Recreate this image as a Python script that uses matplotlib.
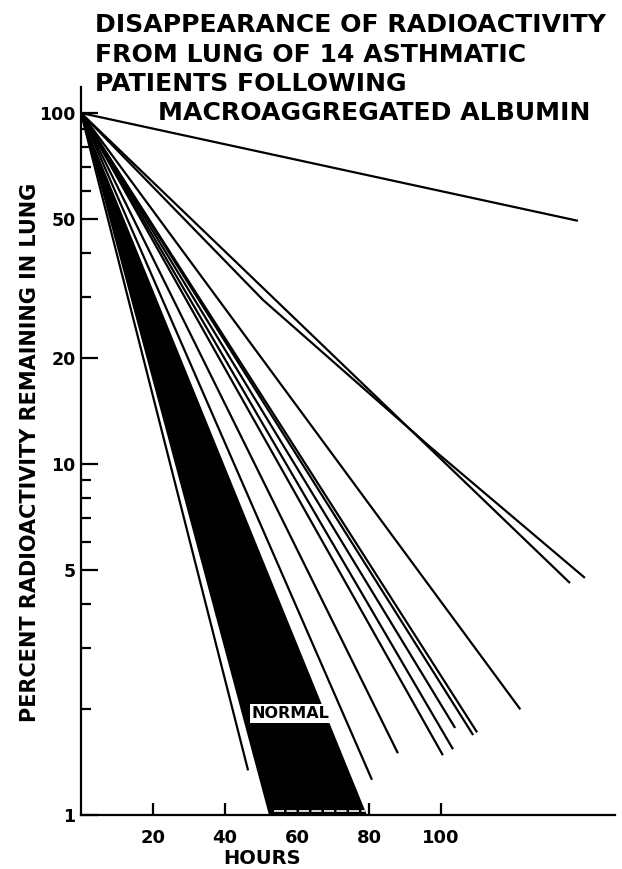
import matplotlib
matplotlib.use("Agg")
import matplotlib.pyplot as plt
from matplotlib import font_manager
import numpy as np

# ---------------- data ----------------
# straight-line patients: (end hour, end percent), all start at (0, 100)
patient_end_hours = [138.0, 135.8, 122.0, 110.0, 108.9, 103.9, 103.3, 100.5, 88.0, 80.8, 46.4]
patient_end_pct   = [49.3,  4.58,  2.0,   1.72,  1.69,  1.77,  1.54,  1.48,  1.50, 1.26, 1.34]
# one curved patient (polyline)
curved_hours = [0.0, 50.6, 96.9, 139.7]
curved_pct   = [100.0, 29.3, 11.2, 4.76]
# normal band (filled fan)
normal_hours = [0.0, 52.2, 79.4]
normal_pct   = [100.0, 1.0, 1.0]
start_pct = 100.0

x_ticks = [20, 40, 60, 80, 100]
y_major = [1, 5, 10, 20, 50, 100]
y_minor = [2, 3, 4, 6, 7, 8, 9, 30, 40, 60, 70, 80, 90]

title_lines = ["DISAPPEARANCE OF RADIOACTIVITY",
               "FROM LUNG OF 14 ASTHMATIC",
               "PATIENTS FOLLOWING",
               "MACROAGGREGATED ALBUMIN"]

# ---------------- figure ----------------
W, H = 622, 869
fig = plt.figure(figsize=(W / 100, H / 100), dpi=100)
ax = fig.add_axes([81 / W, 1 - 815 / H, (615 - 81) / W, (815 - 87) / H])

ax.set_yscale("log")
ax.set_xlim(0, 148.3)
ax.set_ylim(1, 118.6)

lw = 1.6
ax.fill(normal_hours, normal_pct, color="black", lw=0, zorder=2)
ax.plot([53.5, 79.0], [1.025, 1.025], color="white", lw=1.2, ls=(0, (6, 1.5)), zorder=3)

for xe, ye in zip(patient_end_hours, patient_end_pct):
    ax.plot([0, xe], [start_pct, ye], color="black", lw=lw, solid_capstyle="butt", zorder=4)
ax.plot(curved_hours, curved_pct, color="black", lw=lw, zorder=4)

# condensed lettering for the NORMAL label if a narrow face exists
names = {f.name for f in font_manager.fontManager.ttflist}
if "Liberation Sans Narrow" in names:
    nfam, nsize = "Liberation Sans Narrow", 15
else:
    nfam, nsize = "DejaVu Sans", 11.5
ax.text(58.3, 1.95, "NORMAL", ha="center", va="center", fontsize=nsize,
        fontweight="bold", family=nfam, color="black",
        bbox=dict(boxstyle="square,pad=0.12", fc="white", ec="none"), zorder=6)

for s in ["top", "right"]:
    ax.spines[s].set_visible(False)
for s in ["left", "bottom"]:
    ax.spines[s].set_linewidth(1.6)

ax.set_xticks(x_ticks)
ax.set_xticklabels([str(v) for v in x_ticks])
ax.set_yticks(y_major)
ax.set_yticklabels([str(v) for v in y_major])
ax.set_yticks(y_minor, minor=True)
ax.yaxis.set_minor_formatter(matplotlib.ticker.NullFormatter())
ax.xaxis.set_minor_locator(matplotlib.ticker.NullLocator())

ax.tick_params(axis="y", which="major", direction="in", length=12, width=1.6, pad=4, labelsize=12.5)
ax.tick_params(axis="y", which="minor", direction="in", length=7, width=1.6)
ax.tick_params(axis="x", which="major", direction="in", length=9, width=1.6, pad=10, labelsize=13)
for lab in ax.get_xticklabels() + ax.get_yticklabels():
    lab.set_fontweight("bold")

fig.text(262 / W, 1 - 859 / H, "HOURS", ha="center", va="center",
         fontsize=14, fontweight="bold")
fig.text(30 / W, 1 - 452 / H, "PERCENT RADIOACTIVITY REMAINING IN LUNG",
         ha="center", va="center", rotation=90, fontsize=15, fontweight="bold")

ys = [32, 62, 91, 120]
xs = [95, 95, 95, 158]
for t, x, y in zip(title_lines, xs, ys):
    fig.text(x / W, 1 - y / H, t, ha="left", va="baseline", fontsize=18.1,
             fontweight="bold", family="DejaVu Sans")

fig.savefig("out.png", dpi=100)
